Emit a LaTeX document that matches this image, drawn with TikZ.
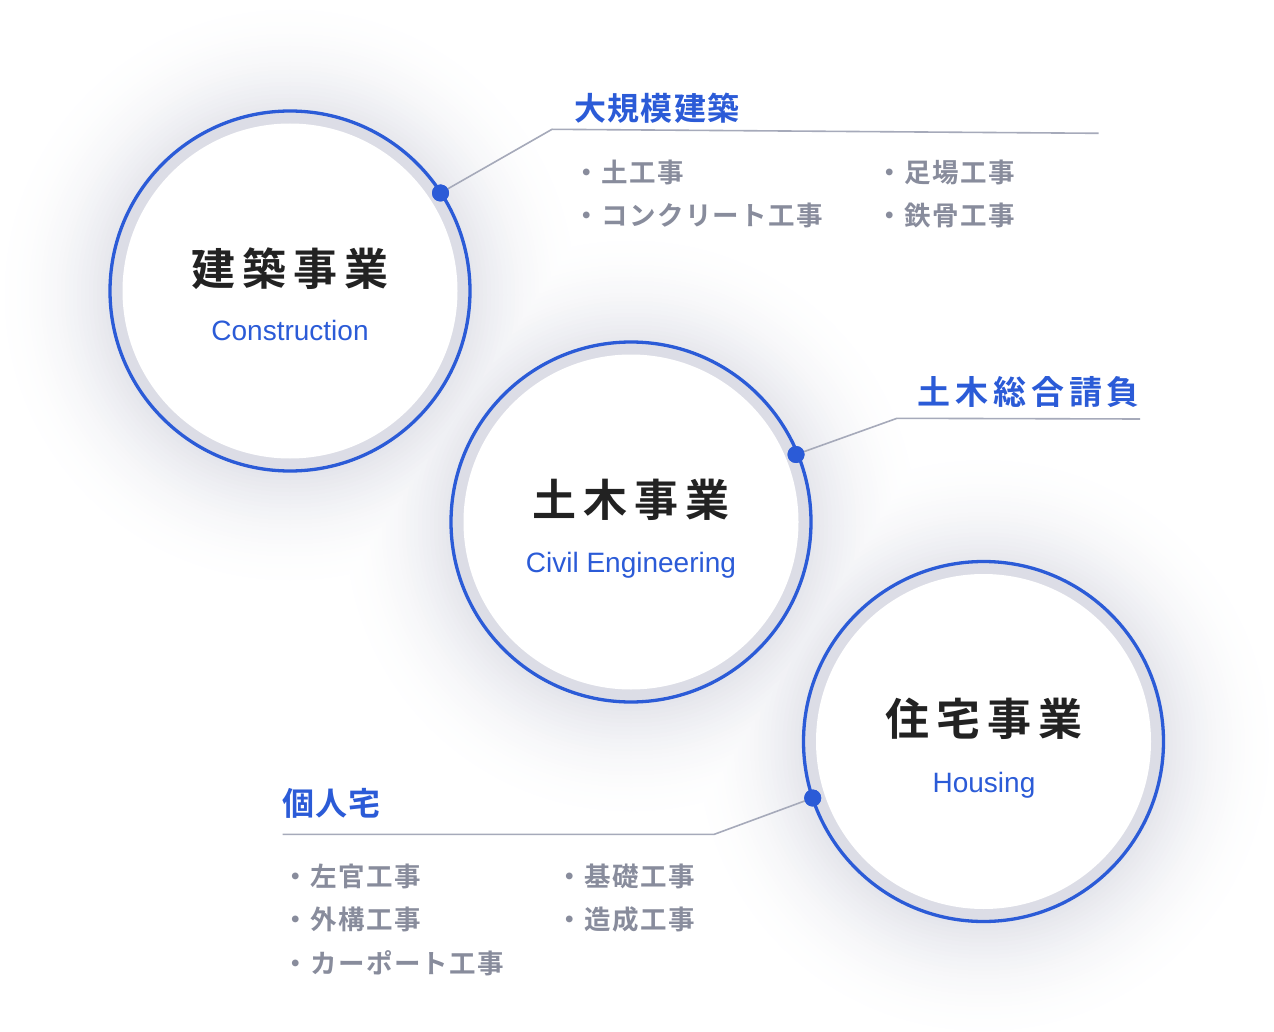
\documentclass[tikz,border=0pt]{standalone}
\usepackage{fontspec}
\setmainfont{Liberation Sans}
\newfontfamily\jpt{Noto Sans CJK JP Bold}[LetterSpace=16]
\newfontfamily\jph{Noto Sans CJK JP Bold}[LetterSpace=4]
\newfontfamily\jphw{Noto Sans CJK JP Bold}[LetterSpace=15]
\newfontfamily\jpi{Noto Sans CJK JP Bold}[LetterSpace=5]
\definecolor{brand}{RGB}{43,91,215}
\definecolor{ring}{RGB}{220,221,230}
\definecolor{itemgrey}{RGB}{136,140,156}
\definecolor{leadgrey}{RGB}{166,170,186}
\definecolor{ink}{RGB}{34,34,34}
\definecolor{shade}{RGB}{90,95,135}
\tikzset{
  title/.style={inner sep=0pt, text=ink, font=\jpt\fontsize{44pt}{44pt}\selectfont, text height=36.5pt, text depth=3.1pt},
  subtitle/.style={inner sep=0pt, anchor=base, text=brand, font=\fontsize{28pt}{28pt}\selectfont},
  heading/.style={inner sep=0pt, anchor=west, text=brand, font=\jph\fontsize{32pt}{32pt}\selectfont, text height=26.6pt, text depth=2.2pt},
  item/.style={inner sep=0pt, anchor=west, text=itemgrey, font=\jpi\fontsize{26.5pt}{27pt}\selectfont, text height=22pt, text depth=1.9pt},
  dotmark/.style={circle, fill=brand, minimum size=17pt, inner sep=0pt},
  leader/.style={draw=leadgrey, line width=1.6pt},
}
\newcommand{\ringdisc}[3]{%
  \fill[ring] (#1,#2) circle[radius=179pt];
  \fill[white] (#1,#2) circle[radius=167.5pt];
  \node[circle, draw=brand, line width=3.3pt, minimum size=360pt, inner sep=0pt] (#3) at (#1,#2) {};
}
\begin{document}
\begin{tikzpicture}[x=1pt,y=-1pt]
\useasboundingbox (0,0) rectangle (1274,1032);
\fill[white] (0,0) rectangle (1274,1032);

% soft shadows (darkest level drawn last, so overlaps keep the darker tone)
\foreach \j in {29,28,...,0} {
  \pgfmathsetmacro\p{16*(1-\j/30)^2}
  \pgfmathsetmacro\r{181+4*\j}
  \foreach \cx/\cy in {290/295, 631/526, 983.5/745.5} {
    \fill[shade!\p!white] (\cx,\cy) circle[radius=\r pt];
  }
}

% circles
\ringdisc{290}{291}{c1}
\ringdisc{631}{522}{c2}
\ringdisc{983.5}{741.5}{c3}

% titles
\node[title] (t1) at (290,269) {建築事業};
\node[subtitle] (s1) at (290,340) {Construction};
\node[title] (t2) at (631,500) {土木事業};
\node[subtitle] (s2) at (631,572) {Civil Engineering};
\node[title] (t3) at (984,719) {住宅事業};
\node[subtitle] (s3) at (984,792) {Housing};

% leader lines
\coordinate (k1) at (552,129.3);
\coordinate (e1) at (1098.5,133.3);
\coordinate (k2) at (897,418.3);
\coordinate (e2) at (1140,419);
\coordinate (k3) at (714,834.4);
\coordinate (e3) at (282.5,834.4);
\node[dotmark] (d1) at (440.5,193) {};
\node[dotmark] (d2) at (796,454.5) {};
\node[dotmark] (d3) at (812.7,798) {};
\draw[leader] (d1.center) -- (k1) -- (e1);
\draw[leader] (d2.center) -- (k2) -- (e2);
\draw[leader] (d3.center) -- (k3) -- (e3);
\node[dotmark] at (d1) {};
\node[dotmark] at (d2) {};
\node[dotmark] at (d3) {};

% headings
\node[heading] (h1) at (574,108) {大規模建築};
\node[heading, font=\jphw\fontsize{33pt}{33pt}\selectfont, text height=27.4pt, text depth=2.3pt] (h2) at (917,392) {土木総合請負};
\node[heading] (h3) at (282,803) {個人宅};

% items
\node[item] (i11) at (573.5,172) {・土工事};
\node[item] (i12) at (573.5,215.5) {・コンクリート工事};
\node[item] (i13) at (876.5,172) {・足場工事};
\node[item] (i14) at (876.5,215.5) {・鉄骨工事};

\node[item] (i31) at (282.5,876) {・左官工事};
\node[item] (i32) at (282.5,919.5) {・外構工事};
\node[item] (i33) at (282.5,963) {・カーポート工事};
\node[item] (i34) at (556.5,876) {・基礎工事};
\node[item] (i35) at (556.5,919.5) {・造成工事};
\end{tikzpicture}
\end{document}
